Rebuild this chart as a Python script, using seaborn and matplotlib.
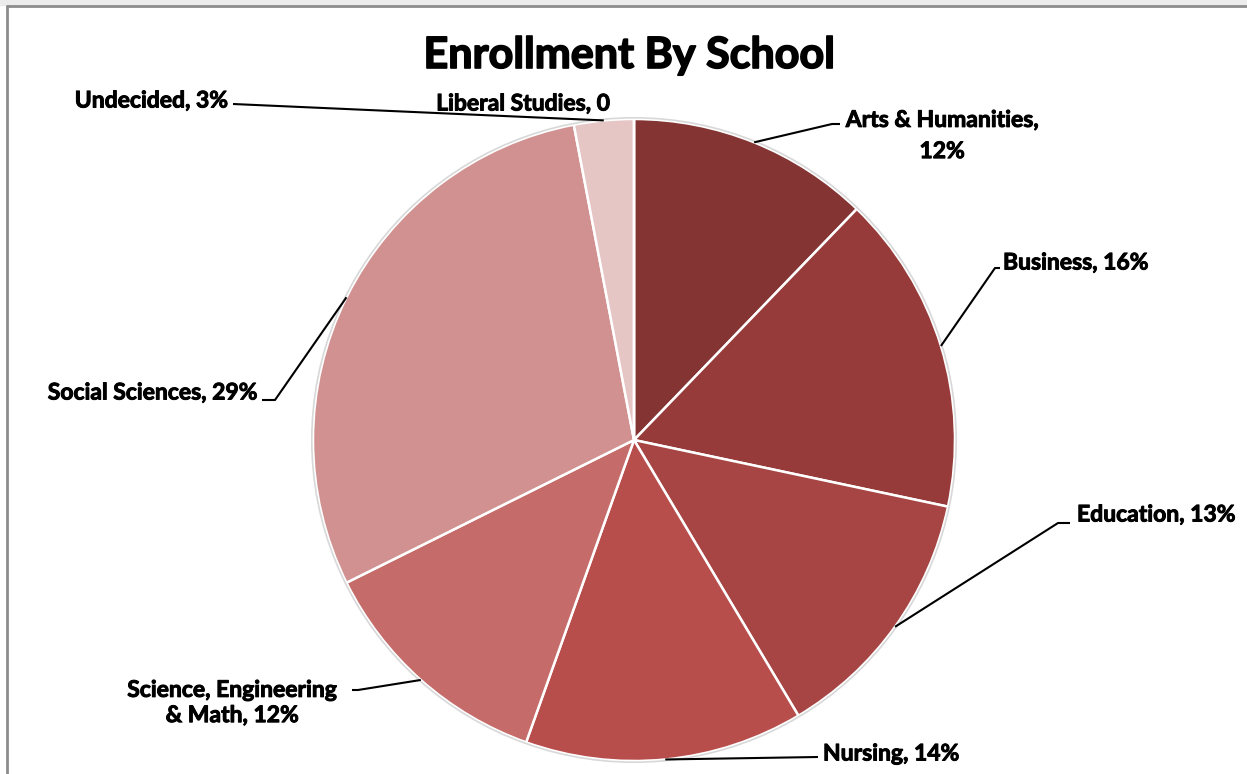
import matplotlib.pyplot as plt
import matplotlib.patheffects as pe
import seaborn as sns
import numpy as np

# Data (percent of enrollment)
schools = ['Arts & Humanities', 'Business', 'Education', 'Nursing',
           'Science, Engineering & Math', 'Social Sciences', 'Undecided',
           'Liberal Studies']
shares = [12.2, 16.1, 13.1, 14.0, 12.2, 29.3, 3.0, 0.0]
label_texts = ['Arts & Humanities,\n12%', 'Business, 16%', 'Education, 13%',
               'Nursing, 14%', 'Science, Engineering\n& Math, 12%',
               'Social Sciences, 29%', 'Undecided, 3%', 'Liberal Studies, 0']
colors = ['#853434', '#963B3A', '#A74544', '#B84E4B', '#C56B69',
          '#D09190', '#E6C5C5', '#E6C5C5']

# Layout (pixel space, y measured from top)
W, H = 1247, 774
cx, cy, R = 634, 440, 321
# text anchor, alignment, line spacing, elbow point (None = straight), text-side end of leader
label_layout = [
    ((942, 136), 'center', 1.6, (832, 124), (840, 124)),
    ((1003, 263), 'left', 1.2, (995, 268), (1000, 268)),
    ((1077, 515), 'left', 1.2, (1058, 523), (1070, 523)),
    ((823, 754), 'left', 1.2, None, (818, 757)),
    ((232, 703), 'center', 1.25, (358, 690), (352, 690)),
    ((257, 393), 'right', 1.2, (275, 400), (262, 400)),
    ((228, 101), 'right', 1.2, None, (233, 104)),
    ((523, 104), 'center', 1.2, None, None),
]

sns.set_theme(style='white')
plt.rcParams['font.family'] = ['Lato', 'DejaVu Sans']

# a thin stroke makes Lato Bold look closer to the heavier original
bolder = [pe.withStroke(linewidth=0.7, foreground='black')]

fig = plt.figure(figsize=(W / 100, H / 100), dpi=100)
fig.patch.set_facecolor('white')
ax = fig.add_axes([0, 0, 1, 1])

wedges, _ = ax.pie(shares, colors=colors, startangle=90, counterclock=False,
                   center=(cx, H - cy), radius=R,
                   wedgeprops=dict(edgecolor='white', linewidth=1.8))
# pie() resets the limits, so set them afterwards
ax.set_xlim(0, W)
ax.set_ylim(0, H)
ax.set_aspect('equal')
ax.axis('off')

# faint outer rim like the original's soft shadow
rim = plt.Circle((cx, H - cy), R + 1.2, fill=False, edgecolor='#d8d8d8', lw=1.2)
ax.add_patch(rim)

for wdg, txt, (pos, ha, ls, elbow, tend) in zip(wedges, label_texts, label_layout):
    ax.text(pos[0], H - pos[1], txt, ha=ha, va='center', fontsize=16.5,
            fontweight='bold', color='black', linespacing=ls,
            path_effects=bolder)
    if tend is None:
        continue
    mid = np.deg2rad((wdg.theta1 + wdg.theta2) / 2)
    ax_pt = (cx + R * np.cos(mid), H - cy + R * np.sin(mid))
    xs = [ax_pt[0]]
    ys = [ax_pt[1]]
    if elbow is not None:
        xs.append(elbow[0])
        ys.append(H - elbow[1])
    xs.append(tend[0])
    ys.append(H - tend[1])
    ax.plot(xs, ys, color='black', lw=1.5, solid_capstyle='butt')

ax.text(629, H - 55, 'Enrollment By School', ha='center', va='center',
        fontsize=31, fontweight='bold', color='black',
        path_effects=[pe.withStroke(linewidth=1.2, foreground='black')])

# chart frame: grey border top/left, faint strip above it
ax.add_patch(plt.Rectangle((0, H - 5), W, 5, color='#ececec', clip_on=False))
ax.plot([7, 7], [0, H - 6], color='#8c8c8c', lw=2)
ax.plot([7, W + 5], [H - 6, H - 6], color='#8c8c8c', lw=2)

fig.savefig('out.png', dpi=100, facecolor='white')
